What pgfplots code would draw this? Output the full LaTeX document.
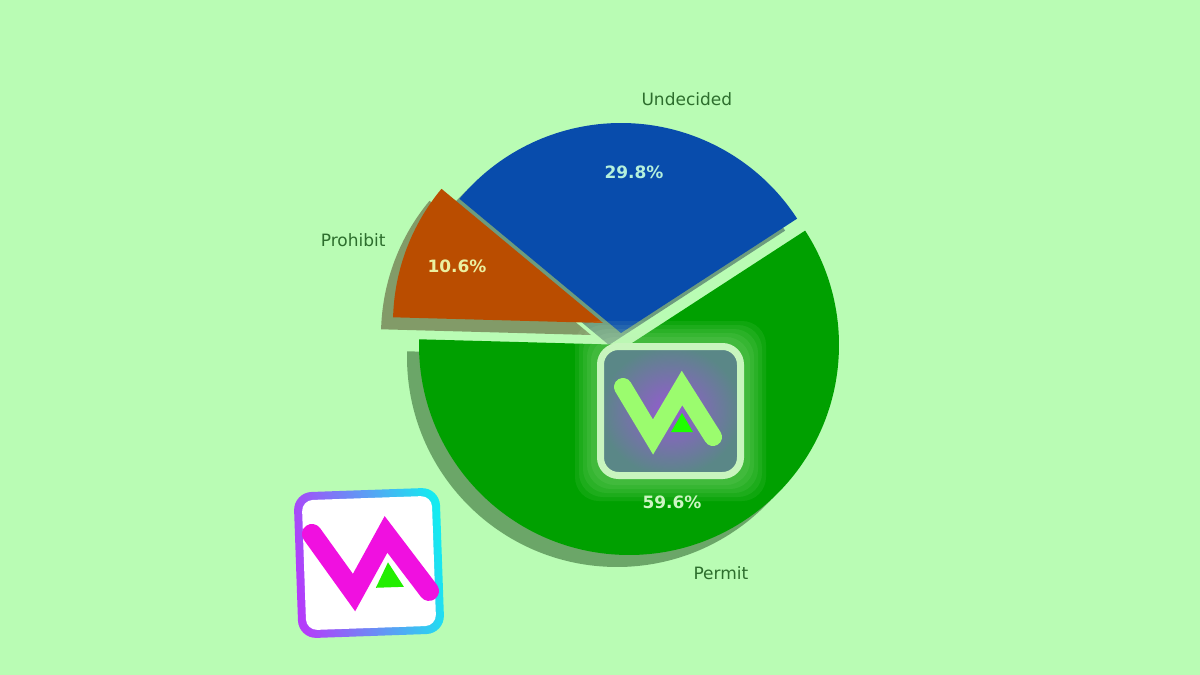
\documentclass[border=0pt]{standalone}
\usepackage{pgfplots}
\pgfplotsset{compat=1.18}
\usepackage{fontspec}
\setmainfont{DejaVu Sans}
\definecolor{bg}{RGB}{185,252,180}
\definecolor{cund}{RGB}{8,76,172}
\definecolor{cpro}{RGB}{186,77,0}
\definecolor{cper}{RGB}{0,160,0}
\definecolor{lbl}{RGB}{45,110,45}
\definecolor{pund}{RGB}{180,240,220}
\definecolor{ppro}{RGB}{235,240,160}
\definecolor{pper}{RGB}{205,245,195}
\definecolor{vmag}{RGB}{240,16,224}
\definecolor{vtri}{RGB}{34,238,0}
\definecolor{lgin}{RGB}{150,90,210}
\definecolor{lgout}{RGB}{90,135,135}
\definecolor{lgbord}{RGB}{200,245,190}
\definecolor{lgv}{RGB}{155,252,110}
\definecolor{lgtri}{RGB}{30,255,0}
\definecolor{brdA}{RGB}{180,60,250}
\definecolor{brdB}{RGB}{20,235,240}
\newcommand{\pieslice}[6]{% opts, cx, cy, r, a1, a2
  \fill[#1] (axis cs:#2,#3) -- ++(#5:#4pt) arc[start angle=#5, end angle=#6, radius=#4pt] -- cycle;}
\newcommand{\glow}[1]{%
  \fill[lgbord,opacity=0.08,rounded corners=24pt] (-73.5pt-#1pt,-68pt-#1pt) rectangle (73.5pt+#1pt,68pt+#1pt);}
% data: percentages and start angle
\pgfmathsetmacro\pU{29.8}
\pgfmathsetmacro\pP{10.6}
\pgfmathsetmacro\pM{59.6}
\pgfmathsetmacro\aA{33}
\pgfmathsetmacro\aB{\aA+3.6*\pU}
\pgfmathsetmacro\aC{\aB+3.6*\pP}
\pgfmathsetmacro\aD{\aC+3.6*\pM}
\begin{document}
\begin{tikzpicture}
\begin{axis}[width=1200pt,height=675pt,scale only axis,
  xmin=0,xmax=1200,ymin=0,ymax=675,y dir=reverse,axis lines=none]
\fill[bg] (axis cs:0,0) rectangle (axis cs:1200,675);
% shadows
\pieslice{cund!30!black,opacity=0.42}{609}{345}{210}{\aA}{\aB}
\pieslice{cpro!30!black,opacity=0.42}{591}{335}{210}{\aB}{\aC}
\pieslice{cper!30!black,opacity=0.42}{617}{357}{210}{\aC}{\aD}
% wedges
\pieslice{cund}{621}{333}{210}{\aA}{\aB}
\pieslice{cpro}{603}{323}{210}{\aB}{\aC}
\pieslice{cper}{629}{345}{210}{\aC}{\aD}
% labels
\node[anchor=west,text=lbl,font=\fontsize{17}{20}\selectfont] at (axis cs:638,99) {Undecided};
\node[anchor=east,text=lbl,font=\fontsize{17}{20}\selectfont] at (axis cs:389,240) {Prohibit};
\node[anchor=west,text=lbl,font=\fontsize{17}{20}\selectfont] at (axis cs:690,573) {Permit};
\node[text=pund,font=\fontsize{17}{20}\selectfont\bfseries] at (axis cs:634,172) {29.8\%};
\node[text=ppro,font=\fontsize{17}{20}\selectfont\bfseries] at (axis cs:457,266) {10.6\%};
\node[text=pper,font=\fontsize{17}{20}\selectfont\bfseries] at (axis cs:672,502) {59.6\%};
% center overlay logo
\begin{scope}[shift={(axis cs:670.5,411)}]
  \glow{22}\glow{18}\glow{14}\glow{10}\glow{6}
  \shade[inner color=lgin,outer color=lgout,rounded corners=18pt] (-70pt,-64.5pt) rectangle (70pt,64.5pt);
  \draw[line width=7pt,color=lgbord,rounded corners=18pt] (-70pt,-64.5pt) rectangle (70pt,64.5pt);
  \draw[line width=18pt,color=lgv,line cap=round,line join=miter] (-47.5pt,24pt) -- (-17.5pt,-26pt) -- (11.5pt,23pt) -- (42.5pt,-26pt);
  \fill[lgtri] (0.5pt,-21pt) -- (22.5pt,-21pt) -- (11.5pt,-2pt) -- cycle;
\end{scope}
% bottom-left logo
\begin{scope}[shift={(axis cs:369,563)},rotate=2]
  \shade[left color=brdA,right color=brdB,shading angle=100,rounded corners=18pt] (-73pt,-73pt) rectangle (73pt,73pt);
  \fill[white,rounded corners=11pt] (-65pt,-65pt) rectangle (65pt,65pt);
  \draw[vmag,line width=20pt,line cap=round,line join=miter] (-56pt,31pt) -- (-16pt,-29pt) -- (18pt,28pt) -- (59pt,-30pt);
  \fill[vtri] (6pt,-25pt) -- (34pt,-25pt) -- (19pt,0pt) -- cycle;
\end{scope}
\end{axis}
\end{tikzpicture}
\end{document}
